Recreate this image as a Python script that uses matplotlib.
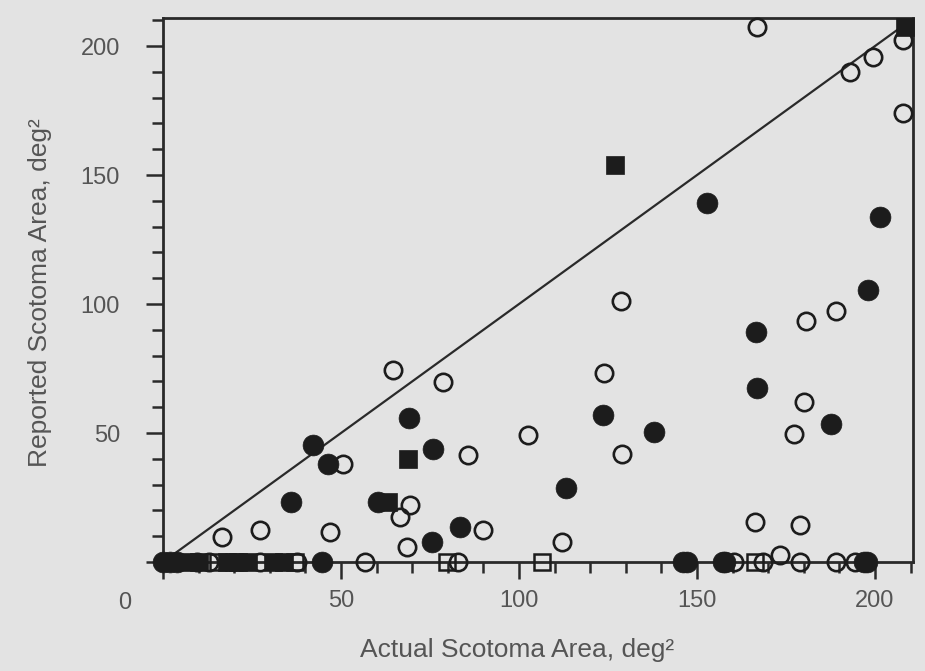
import matplotlib
matplotlib.use("Agg")
import matplotlib.pyplot as plt
from matplotlib.ticker import MultipleLocator, FixedLocator

# ---- data (deg^2) ----
filled_circle_x = [36.0, 42.1, 46.3, 60.4, 69.1, 75.8, 75.5, 83.4, 113.2, 123.7, 138.0,
                   152.7, 166.6, 166.9, 187.8, 198.1, 201.4,
                   0.0, 2.0, 4.0, 44.8, 146.2, 147.2, 157.2, 158.0, 196.8, 197.8]
filled_circle_y = [23.3, 45.3, 38.0, 23.3, 55.8, 43.8, 7.9, 13.7, 28.7, 57.0, 50.5,
                   139.0, 89.3, 67.5, 53.4, 105.4, 133.8,
                   0, 0, 0, 0, 0, 0, 0, 0, 0, 0]

filled_square_x = [127.0, 68.9, 63.3, 208.4, 6.0, 10.0, 18.0, 21.0, 24.0, 31.0, 34.0]
filled_square_y = [153.9, 39.8, 23.4, 207.5, 0, 0, 0, 0, 0, 0, 0]

open_circle_x = [16.5, 27.2, 46.9, 50.6, 64.7, 66.6, 69.4, 68.5, 78.7, 85.8, 90.0, 102.6,
                 112.0, 124.0, 128.8, 129.0, 166.3, 166.8, 173.3, 177.2, 178.9, 180.1,
                 180.5, 189.2, 193.0, 199.5, 208.0, 208.0,
                 9.5, 13.0, 27.2, 37.6, 56.7, 82.9, 160.5, 168.5, 179.0, 189.2, 194.5]
open_circle_y = [9.8, 12.4, 11.7, 37.9, 74.4, 17.6, 22.1, 5.9, 69.9, 41.5, 12.4, 49.2,
                 7.9, 73.1, 101.2, 41.9, 15.6, 207.5, 2.7, 49.6, 14.3, 62.1,
                 93.4, 97.3, 190.0, 195.9, 202.3, 173.9,
                 0, 0, 0, 0, 0, 0, 0, 0, 0, 0, 0]

open_square_x = [15.5, 20.0, 37.0, 79.7, 106.4, 166.3]
open_square_y = [0, 0, 0, 0, 0, 0]

identity_x = [0, 208]
identity_y = [0, 208]

major_ticks = [0, 50, 100, 150, 200]
major_labels = ["", "50", "100", "150", "200"]

# ---- figure ----
bg = "#e3e3e3"
ink = "#1c1c1c"
txt = "#555555"
plt.rcParams['font.family'] = ['Liberation Sans', 'DejaVu Sans']

fig = plt.figure(figsize=(9.25, 6.71), dpi=100, facecolor=bg)
ax = fig.add_axes([163 / 925, (671 - 562) / 671, 750 / 925, 544 / 671], facecolor=bg)
ax.set_xlim(0, 210.7)
ax.set_ylim(0, 210.9)

ax.plot(identity_x, identity_y, color="#2a2a2a", lw=1.6, zorder=2)

ax.plot(open_square_x, open_square_y, ls="none", marker="s", ms=12, mfc="none",
        mec=ink, mew=1.8, clip_on=False, zorder=4)
ax.plot(open_circle_x, open_circle_y, ls="none", marker="o", ms=12.5, mfc="none",
        mec=ink, mew=1.9, clip_on=False, zorder=5)
ax.plot(filled_square_x, filled_square_y, ls="none", marker="s", ms=13, mfc=ink,
        mec=ink, mew=0.5, clip_on=False, zorder=6)
ax.plot(filled_circle_x, filled_circle_y, ls="none", marker="o", ms=15, mfc=ink,
        mec=ink, mew=0.5, clip_on=False, zorder=6)

for s in ax.spines.values():
    s.set_linewidth(2.0)
    s.set_color("#2a2a2a")
    s.set_zorder(3)

ax.xaxis.set_major_locator(FixedLocator(major_ticks))
ax.yaxis.set_major_locator(FixedLocator(major_ticks))
ax.set_xticklabels(major_labels)
ax.set_yticklabels(major_labels)
ax.xaxis.set_minor_locator(MultipleLocator(10))
ax.yaxis.set_minor_locator(MultipleLocator(10))
ax.tick_params(which="major", direction="out", length=12, width=1.8, color="#2a2a2a",
               labelsize=17, labelcolor=txt)
ax.tick_params(which="minor", direction="out", length=8, width=1.8, color="#2a2a2a")
ax.tick_params(axis="x", which="major", pad=8)
ax.tick_params(axis="y", which="major", pad=19)

ax.text(-10.7, -15.9, "0", ha="center", va="center", fontsize=17, color=txt)

fig.text(517 / 925, 1 - 650 / 671, "Actual Scotoma Area, deg²", ha="center", va="center",
         fontsize=19, color=txt)
fig.text(40 / 925, 1 - 293 / 671, "Reported Scotoma Area, deg²", ha="center", va="center",
         rotation=90, fontsize=19, color=txt)

fig.savefig("out.png", dpi=100, facecolor=bg)
